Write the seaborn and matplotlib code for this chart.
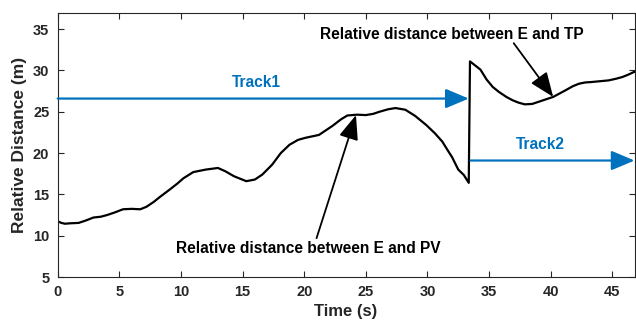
import matplotlib
matplotlib.use("Agg")
import matplotlib.pyplot as plt
import seaborn as sns
import pandas as pd

# Data
time_s = [0.0, 0.3, 0.6, 1.0, 1.7, 2.3, 2.9, 3.5, 4.0, 4.6, 5.3, 6.0, 6.7, 7.2, 7.8, 8.3,
          9.1, 9.7, 10.2, 11.0, 12.0, 13.0, 13.6, 14.3, 15.3, 16.0, 16.6, 17.4, 18.1,
          18.8, 19.5, 20.1, 21.2, 22.3, 23.0, 23.5, 24.3, 25.0, 25.6, 26.1, 26.8, 27.4,
          28.2, 29.0, 29.9, 30.6, 31.2, 31.7, 32.0, 32.5, 32.95, 33.35, 33.45,
          34.3, 34.8, 35.3, 35.8, 36.4, 36.9, 37.4, 37.9, 38.5, 39.0, 39.6, 40.2, 40.7,
          41.2, 41.8, 42.3, 42.8, 43.3, 44.0, 44.7, 45.3, 45.8, 46.3, 46.8]
distance_m = [11.75, 11.55, 11.45, 11.5, 11.55, 11.85, 12.2, 12.3, 12.5, 12.8, 13.2, 13.25,
              13.2, 13.5, 14.1, 14.7, 15.6, 16.3, 16.95, 17.7, 18.0, 18.2, 17.8, 17.2,
              16.6, 16.8, 17.4, 18.6, 20.0, 21.0, 21.6, 21.85, 22.2, 23.3, 24.1, 24.55,
              24.65, 24.6, 24.75, 25.0, 25.3, 25.45, 25.25, 24.5, 23.4, 22.4, 21.4, 20.2,
              19.5, 18.0, 17.35, 16.4, 31.1, 30.1, 28.9, 28.0, 27.4, 26.8, 26.4, 26.1,
              25.9, 25.95, 26.2, 26.5, 26.8, 27.2, 27.6, 28.1, 28.4, 28.55, 28.6, 28.7,
              28.8, 29.0, 29.2, 29.5, 29.85]

track1_y = 26.6
track1_x = [0.0, 33.35]
track2_y = 19.1
track2_x = [33.5, 46.8]

label_track1 = "Track1"
label_track2 = "Track2"
label_pv = "Relative distance between E and PV"
label_tp = "Relative distance between E and TP"
pv_tip = (24.2, 24.6)
pv_tail = (21.0, 9.7)
pv_text = (20.3, 8.5)
tp_tip = (40.2, 26.8)
tp_tail = (37.0, 33.3)
tp_text = (32.0, 34.4)

x_ticks = [0, 5, 10, 15, 20, 25, 30, 35, 40, 45]
y_ticks = [5, 10, 15, 20, 25, 30, 35]

sns.set_style("ticks")
plt.rcParams['font.family'] = ['Liberation Sans', 'DejaVu Sans']
plt.rcParams['font.weight'] = 'bold'

blue = "#0072BD"
fig = plt.figure(figsize=(6.36, 3.24), dpi=100)
ax = fig.add_axes([0.0907, 0.145, 0.907, 0.816])

df = pd.DataFrame({"Time (s)": time_s, "Relative Distance (m)": distance_m})
sns.lineplot(data=df, x="Time (s)", y="Relative Distance (m)", ax=ax,
             color="black", linewidth=1.6, sort=False)

arrow_kw = dict(arrowstyle="-|>,head_length=0.95,head_width=0.4", color=blue, lw=1.6,
                shrinkA=0, shrinkB=0, mutation_scale=15)
ax.annotate("", xy=(track1_x[1], track1_y), xytext=(track1_x[0], track1_y),
            arrowprops=arrow_kw)
ax.annotate("", xy=(track2_x[1], track2_y), xytext=(track2_x[0], track2_y),
            arrowprops=arrow_kw, annotation_clip=False)
ax.text(16.1, 28.6, label_track1, color=blue, fontsize=11.2, fontweight='bold',
        ha='center', va='center')
ax.text(39.2, 21.0, label_track2, color=blue, fontsize=11.2, fontweight='bold',
        ha='center', va='center')

black_arrow = dict(arrowstyle="-|>,head_length=1.0,head_width=0.4", color="black", lw=1.3,
                   shrinkA=0, shrinkB=0, mutation_scale=15)
ax.annotate("", xy=pv_tip, xytext=pv_tail, arrowprops=black_arrow)
ax.text(pv_text[0], pv_text[1], label_pv, fontsize=11.2, fontweight='bold',
        ha='center', va='center', color='black')
ax.annotate("", xy=tp_tip, xytext=tp_tail, arrowprops=black_arrow)
ax.text(tp_text[0], tp_text[1], label_tp, fontsize=11.2, fontweight='bold',
        ha='center', va='center', color='black')

ax.set_xlim(0, 46.8)
ax.set_ylim(5, 37)
ax.set_xticks(x_ticks)
ax.set_yticks(y_ticks)
ax.set_xlabel("Time (s)", fontsize=12, fontweight='bold', color='#262626', labelpad=3)
ax.set_ylabel("Relative Distance (m)", fontsize=12.5, fontweight='bold', color='#262626',
              labelpad=4)
ax.tick_params(direction='in', top=True, right=True, length=4, width=0.8,
               labelsize=10.5, colors='#262626', pad=6)
for lab in ax.get_xticklabels() + ax.get_yticklabels():
    lab.set_fontweight('bold')
for s in ax.spines.values():
    s.set_visible(True)
    s.set_linewidth(0.8)
    s.set_color('#262626')

fig.savefig("out.png", dpi=100)
